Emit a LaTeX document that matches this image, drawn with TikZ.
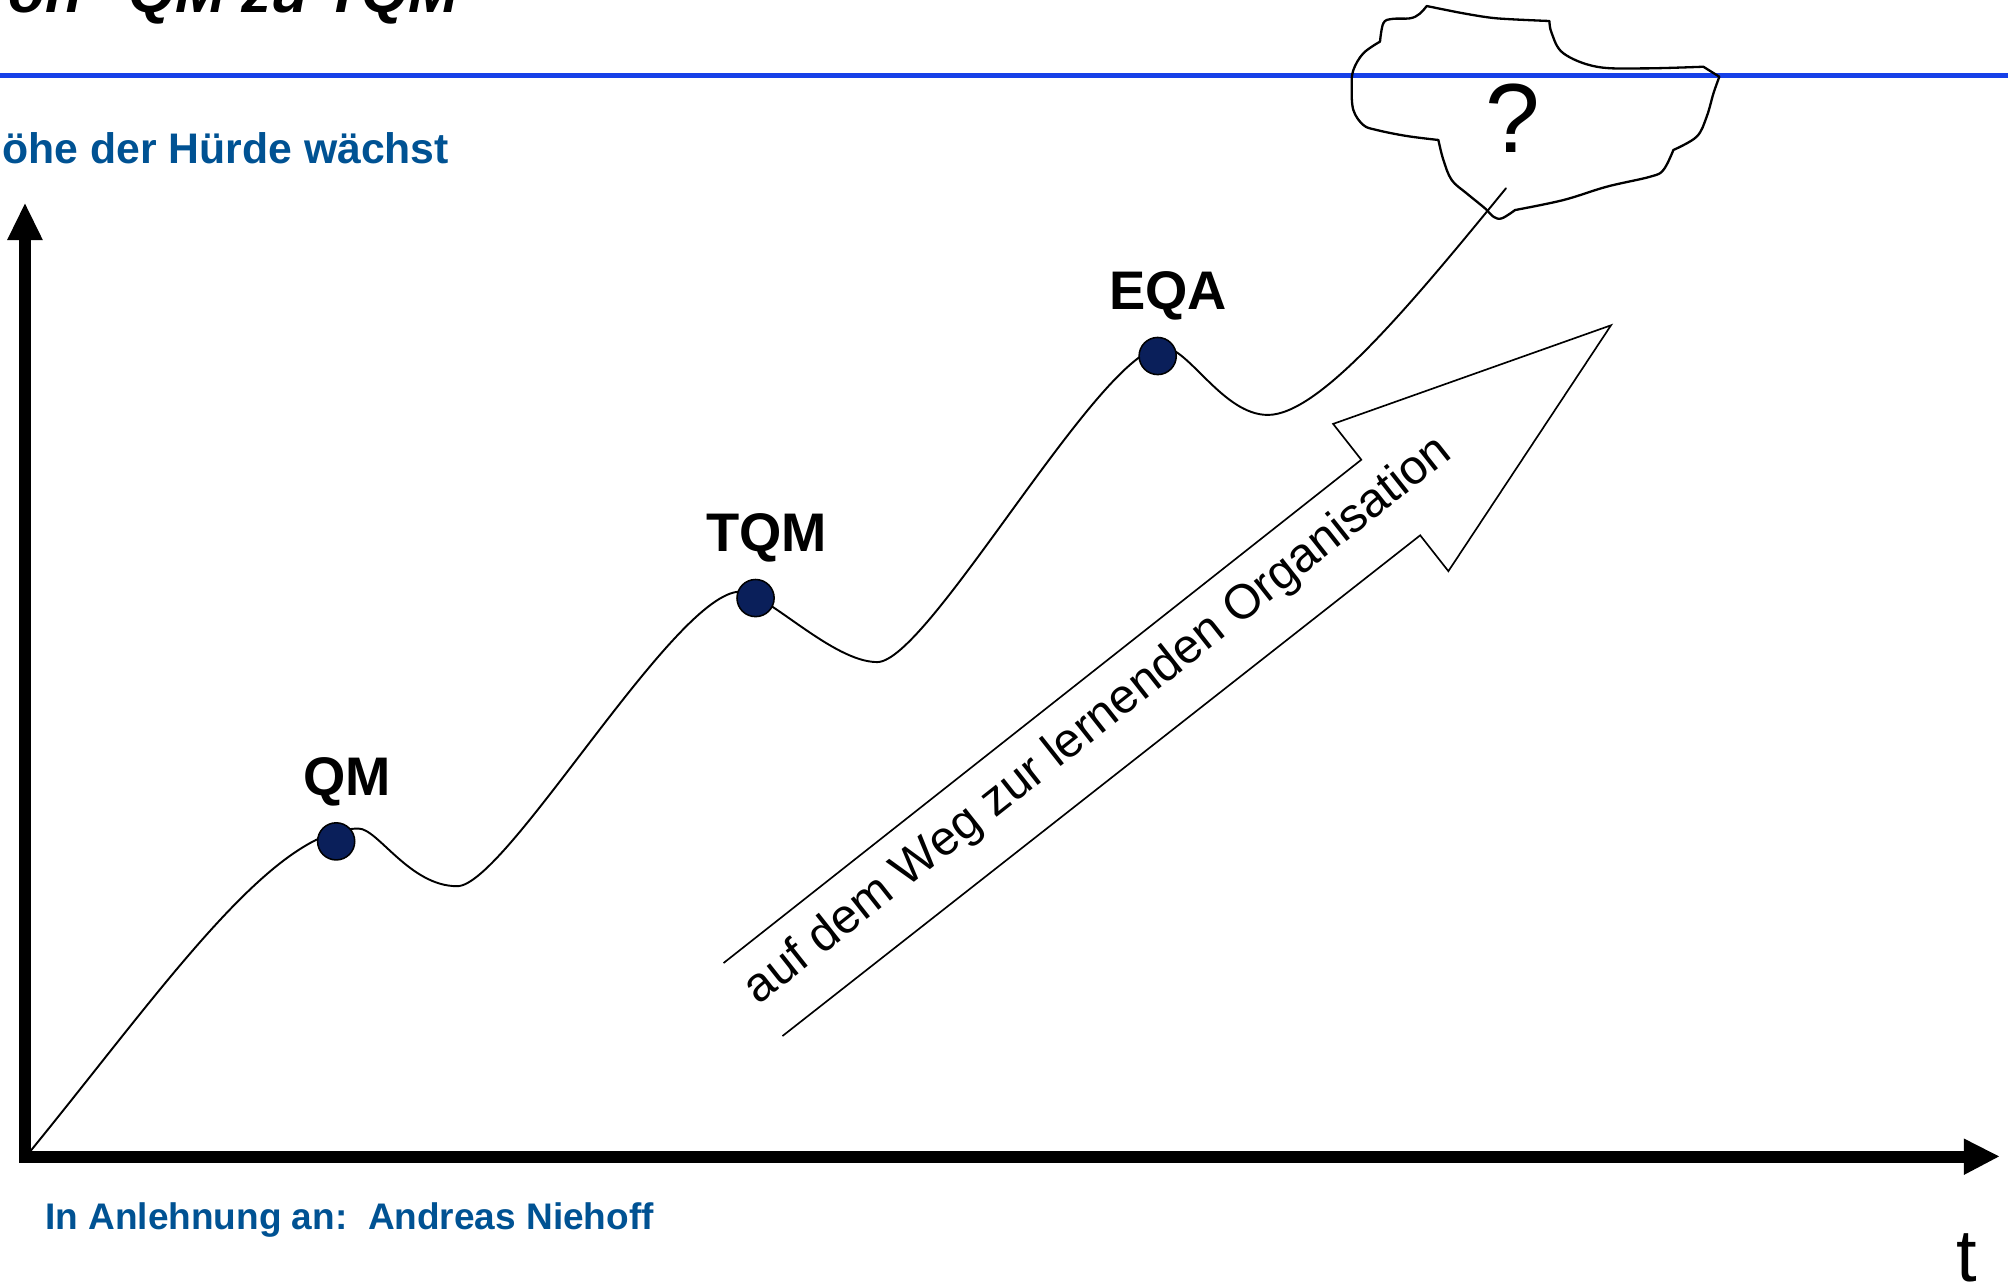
\documentclass[tikz,border=0pt]{standalone}
\usepackage{fontspec}
\setmainfont{Liberation Sans}
\definecolor{rulecolor}{RGB}{22,64,232}
\definecolor{headblue}{RGB}{0,82,147}
\definecolor{stagefill}{RGB}{10,31,90}
\begin{document}
\begin{tikzpicture}[x=0.5bp, y=-0.5bp,
  axis/.style={line width=4.5bp, line join=miter},
  axishead/.style={fill=black},
  curve/.style={line width=0.75bp, line cap=round},
  stagedot/.style={circle, draw=black, line width=0.6bp, fill=stagefill,
    minimum size=14.5bp, inner sep=0pt},
  stagelabel/.style={font=\fontsize{21.3}{25}\selectfont\bfseries, inner sep=0pt},
  bluetext/.style={text=headblue, inner sep=0pt},
  blockarrow/.style={line width=0.65bp, line join=miter},
  cloudline/.style={line width=0.9bp, line join=round},
]
\useasboundingbox (0,0) rectangle (1568,1003);
\begin{scope}
\clip (0,0) rectangle (1568,1003);

% title (runs off the top edge)
\node[anchor=base west, inner sep=0pt,
  font=\fontsize{23.5}{28}\selectfont\bfseries\itshape] (title) at (-23,9.5)
  {Von “QM zu TQM”};

% blue rule under the title
\draw[rulecolor, line width=1.7bp] (0,59) -- (1568,59);

% subtitle (runs off the left edge)
\node[bluetext, anchor=base east, font=\fontsize{16.75}{20}\selectfont\bfseries]
  (subtitle) at (351,128) {Höhe der Hürde wächst};

% axes
\coordinate (corner) at (19.5,903.5);
\coordinate (ytip) at (19.5,159);
\coordinate (xtip) at (1561,903);
\draw[axis] (19.5,187) -- (corner) -- (1534,903.5);
\fill[axishead] (ytip) -- (5.5,187.5) -- (33.5,187.5) -- cycle;
\fill[axishead] (xtip) -- (1533.5,889) -- (1533.5,917.5) -- cycle;
\node[anchor=base, inner sep=0pt, font=\fontsize{29}{34}\selectfont] (tlabel)
  at (1536,1001) {t};

% course of the development
\coordinate (start) at (22,901);
\coordinate (p1) at (280,647);
\coordinate (m1) at (357,692);
\coordinate (p2) at (578,462);
\coordinate (m2) at (685,517);
\coordinate (p3) at (908,271);
\coordinate (m3) at (990,324);
\coordinate (finish) at (1176,147);
\draw[curve] (start) .. controls (125,775) and (212,647) .. (p1)
  .. controls (295,647) and (320,692) .. (m1)
  .. controls (395,692) and (527,462) .. (p2)
  .. controls (598,462) and (650,517) .. (m2)
  .. controls (725,517) and (860,271) .. (p3)
  .. controls (928,271) and (955,324) .. (m3)
  .. controls (1030,324) and (1100,240) .. (finish);

% stages
\node[stagedot] (qm) at (262.5,657) {};
\node[stagedot] (tqm) at (590,467) {};
\node[stagedot] (eqa) at (904,278) {};
\node[stagelabel, anchor=base] (qmlabel) at (271,621) {QM};
\node[stagelabel, anchor=base] (tqmlabel) at (598.5,431) {TQM};
\node[stagelabel, anchor=base] (eqalabel) at (912,242) {EQA};

% cloud with the open question
\draw[cloudline]
  plot[smooth, tension=0.5] coordinates {(1114.1,4.7) (1142.7,10.4) (1168.7,14.3) (1209.9,16.4)}
  -- plot[smooth, tension=0.6] coordinates {(1209.9,16.4) (1211.7,26.0) (1220.8,41.6) (1246.8,52.1) (1283.3,53.4) (1330.1,52.1)}
  -- (1342.6,59.9)
  -- plot[smooth, tension=0.6] coordinates {(1342.6,59.9) (1338.0,72.9) (1332.7,91.1) (1324.9,106.7) (1306.7,117.1)}
  -- plot[smooth, tension=0.6] coordinates {(1306.7,117.1) (1298.9,132.7) (1288.5,138.0) (1254.6,145.8) (1220.8,156.2) (1183.1,164.0)}
  -- plot[smooth, tension=0.6] coordinates {(1183.1,164.0) (1172.7,170.5) (1166.1,169.2) (1159.6,162.7) (1145.3,151.0) (1133.6,140.6) (1127.1,124.9) (1123.2,109.3)}
  -- plot[smooth, tension=0.6] coordinates {(1123.2,109.3) (1098.5,106.2) (1075.0,101.5) (1064.6,97.6) (1056.8,85.9) (1055.5,67.7) (1056.8,54.7) (1064.6,41.6) (1077.6,32.5)}
  -- plot[smooth, tension=0.6] coordinates {(1077.6,32.5) (1080.2,18.2) (1086.8,14.8) (1101.1,14.3) (1108.4,10.9) (1114.1,4.7)}
  -- cycle;
\node[anchor=base, inner sep=0pt, font=\fontsize{38.5}{44}\selectfont] (question)
  at (1181,119) {?};

% block arrow with its caption
\coordinate (tailup) at (565,752);
\coordinate (notchup) at (1063,359);
\coordinate (barbup) at (1041,331);
\coordinate (head) at (1258,254);
\coordinate (barbdown) at (1131,446);
\coordinate (notchdown) at (1109,418);
\coordinate (taildown) at (611,809);
\draw[blockarrow] (tailup) -- (notchup) -- (barbup) -- (head) -- (barbdown)
  -- (notchdown) -- (taildown);
\node[rotate=38.3, inner sep=0pt, font=\fontsize{19}{23}\selectfont] (way)
  at (858,563) {auf dem Weg zur lernenden Organisation};

% source note
\node[bluetext, anchor=base west, font=\fontsize{14.5}{18}\selectfont\bfseries]
  (source) at (35,960) {In Anlehnung an:\ \ Andreas Niehoff};
\end{scope}
\end{tikzpicture}
\end{document}
